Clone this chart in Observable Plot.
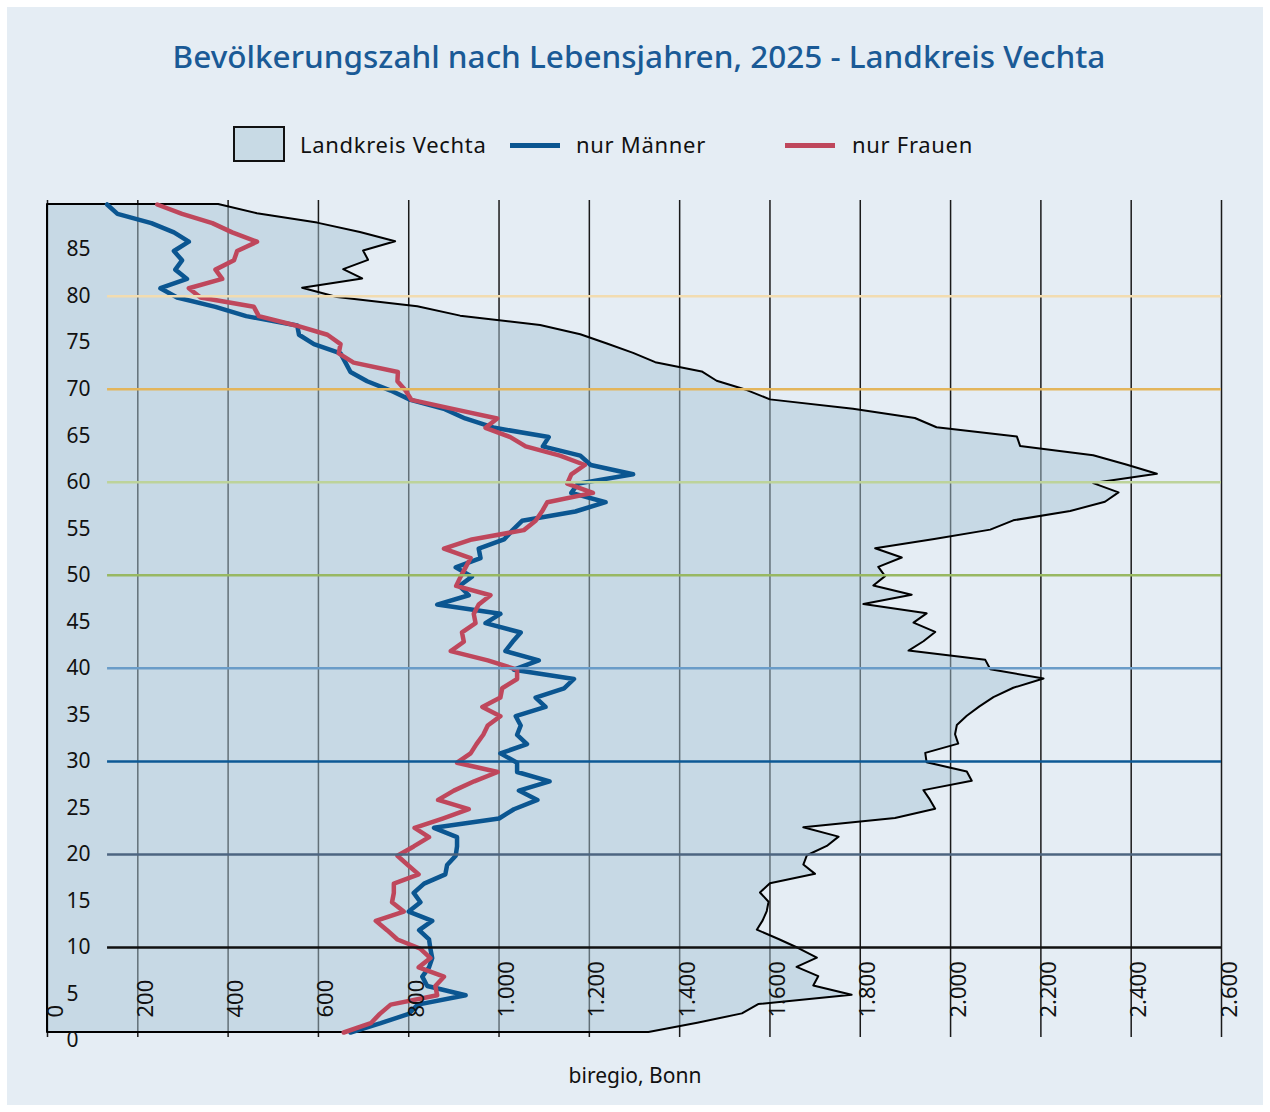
<!DOCTYPE html>
<html>
<head>
<meta charset="utf-8">
<script src="https://cdn.jsdelivr.net/npm/d3@7"></script>
<script src="https://cdn.jsdelivr.net/npm/@observablehq/plot@0.6"></script>
<style>
  html, body { margin: 0; padding: 0; background: #ffffff; }
  #page { position: relative; width: 1270px; height: 1112px; overflow: hidden; font-family: "Noto Sans", sans-serif; }
  #panel { position: absolute; left: 7px; top: 7px; width: 1256px; height: 1098px; background: #e5edf4; }
  #title { position: absolute; left: 0; width: 1278px; top: 34px; text-align: center; font-size: 31.5px; font-weight: 500; color: #1a5a96; }
  .legend-item { position: absolute; font-size: 22px; letter-spacing: 0.7px; color: #111; line-height: 26px; }
  .swatch-box { position: absolute; left: 233px; top: 126px; width: 48px; height: 32px; background: #c8dae5; border: 2.5px solid #111; }
  .swatch-line { position: absolute; height: 4.5px; width: 50px; }
  #caption { position: absolute; left: 0; width: 1270px; top: 1061px; text-align: center; font-size: 21px; color: #111; }
  #chart { position: absolute; left: 0; top: 190px; line-height: 0; }
</style>
</head>
<body>
<div id="page">
  <div id="panel"></div>
  <div id="title">Bevölkerungszahl nach Lebensjahren, 2025 - Landkreis Vechta</div>
  <div class="swatch-box"></div>
  <div class="legend-item" style="left:300px; top:131px;">Landkreis Vechta</div>
  <div class="swatch-line" style="left:510px; top:143px; background:#0b5691;"></div>
  <div class="legend-item" style="left:576px; top:131px;">nur Männer</div>
  <div class="swatch-line" style="left:785px; top:143px; background:#bf475c;"></div>
  <div class="legend-item" style="left:852px; top:131px;">nur Frauen</div>
  <div id="chart"></div>
  <div id="caption">biregio, Bonn</div>
</div>
<script>
// Ages (Lebensjahre) 0..89
const ages = [0,1,2,3,4,5,6,7,8,9,10,11,12,13,14,15,16,17,18,19,20,21,22,23,24,25,26,27,28,29,30,31,32,33,34,35,36,37,38,39,40,41,42,43,44,45,46,47,48,49,50,51,52,53,54,55,56,57,58,59,60,61,62,63,64,65,66,67,68,69,70,71,72,73,74,75,76,77,78,79,80,81,82,83,84,85,86,87,88,89];

// Landkreis Vechta (gesamt)
const total = [1332,1440,1539,1575,1782,1697,1708,1660,1705,1665,
  1620,1572,1585,1594,1598,1579,1601,1701,1675,1683,
  1727,1753,1675,1878,1967,1955,1941,2048,2037,1948,
  1945,2018,2011,2015,2037,2065,2096,2140,2207,2089,
  2078,1908,1941,1967,1919,1948,1808,1915,1830,1856,
  1841,1893,1834,1965,2089,2140,2266,2343,2373,2317,
  2458,2390,2317,2155,2148,1970,1922,1785,1601,1550,
  1483,1450,1347,1298,1240,1181,1092,915,820,642,
  565,698,656,711,700,771,693,598,465,379];

// nur Männer
const men = [671,738,800,820,926,841,830,845,852,848,
  845,823,852,800,826,811,834,881,885,904,
  907,907,856,1000,1033,1085,1044,1112,1040,1040,
  1003,1062,1040,1048,1037,1103,1081,1144,1166,1033,
  1088,1014,1030,1048,970,1003,863,933,912,940,
  904,959,955,1011,1030,1051,1169,1236,1160,1175,
  1297,1203,1180,1097,1110,990,925,880,804,760,
  708,671,660,649,590,557,553,440,372,287,
  250,309,283,298,280,313,280,230,155,132];

// nur Frauen
const women = [656,716,736,760,863,859,878,822,848,826,
  775,752,727,789,763,767,767,822,798,775,
  811,845,813,875,933,865,900,945,997,907,
  937,950,965,975,1003,963,1003,1007,1040,1040,
  975,893,922,918,948,944,955,981,905,915,
  926,937,878,940,1055,1081,1095,1107,1208,1151,
  1160,1190,1135,1059,1025,970,996,900,806,793,
  775,776,678,645,649,620,550,468,457,339,
  313,387,372,413,420,464,409,365,298,243];

// Axis ticks
const xTicks = [0,200,400,600,800,1000,1200,1400,1600,1800,2000,2200,2400,2600];
const yTicks = [0,5,10,15,20,25,30,35,40,45,50,55,60,65,70,75,80,85];

// Age marker lines
const markerAges = [10,20,30,40,50,60,70,80];
const markerColors = ["#111111","#4d6580","#0d5995","#6a9cc8","#98b862","#bdd39a","#e3b55b","#f2dcb0"];
const markerStart = 133;

const rows = ages.map((a, i) => ({age: a, total: total[i], men: men[i], women: women[i]}));
const markers = markerAges.map((a, i) => ({age: a, color: markerColors[i]}));

const de = d3.formatLocale({decimal: ",", thousands: ".", grouping: [3], currency: ["", " €"]});
const fmt = de.format(",");

const chart = Plot.plot({
  width: 1270,
  height: 870,
  marginLeft: 47,
  marginRight: 49,
  marginTop: 14,
  marginBottom: 28,
  style: {background: "transparent", fontFamily: "Noto Sans, sans-serif"},
  x: {domain: [0, 2600], axis: null},
  y: {domain: [0, 89], axis: null},
  marks: [
    Plot.ruleX(xTicks, {x: d => d, stroke: "#1a1a1a", strokeWidth: 1.5, insetTop: -4, insetBottom: -5}),
    Plot.areaX(rows, {y: "age", x: "total", fill: "#a9c5d6", fillOpacity: 0.5}),
    Plot.areaX(rows, {y: "age", x: "total", fill: "none", stroke: "#000", strokeWidth: 2}),
    Plot.lineX(rows, {y: "age", x: "men", stroke: "#0b5691", strokeWidth: 4.5}),
    Plot.lineX(rows, {y: "age", x: "women", stroke: "#bf475c", strokeWidth: 4.5}),
    Plot.ruleY(markers, {y: "age", x1: markerStart, x2: 2600, stroke: "color", strokeWidth: 2.5, dy: 8}),
    Plot.text(yTicks, {x: 0, y: d => d, text: d => String(d), textAnchor: "start", dx: 19, dy: 8, fontSize: 21, fill: "#111"}),
    Plot.text(xTicks, {x: d => d, y: 0, text: d => fmt(d), rotate: -90, textAnchor: "start", dx: 8, dy: -15, fontSize: 22, fill: "#111"})
  ]
});
document.getElementById("chart").appendChild(chart);
</script>
</body>
</html>
